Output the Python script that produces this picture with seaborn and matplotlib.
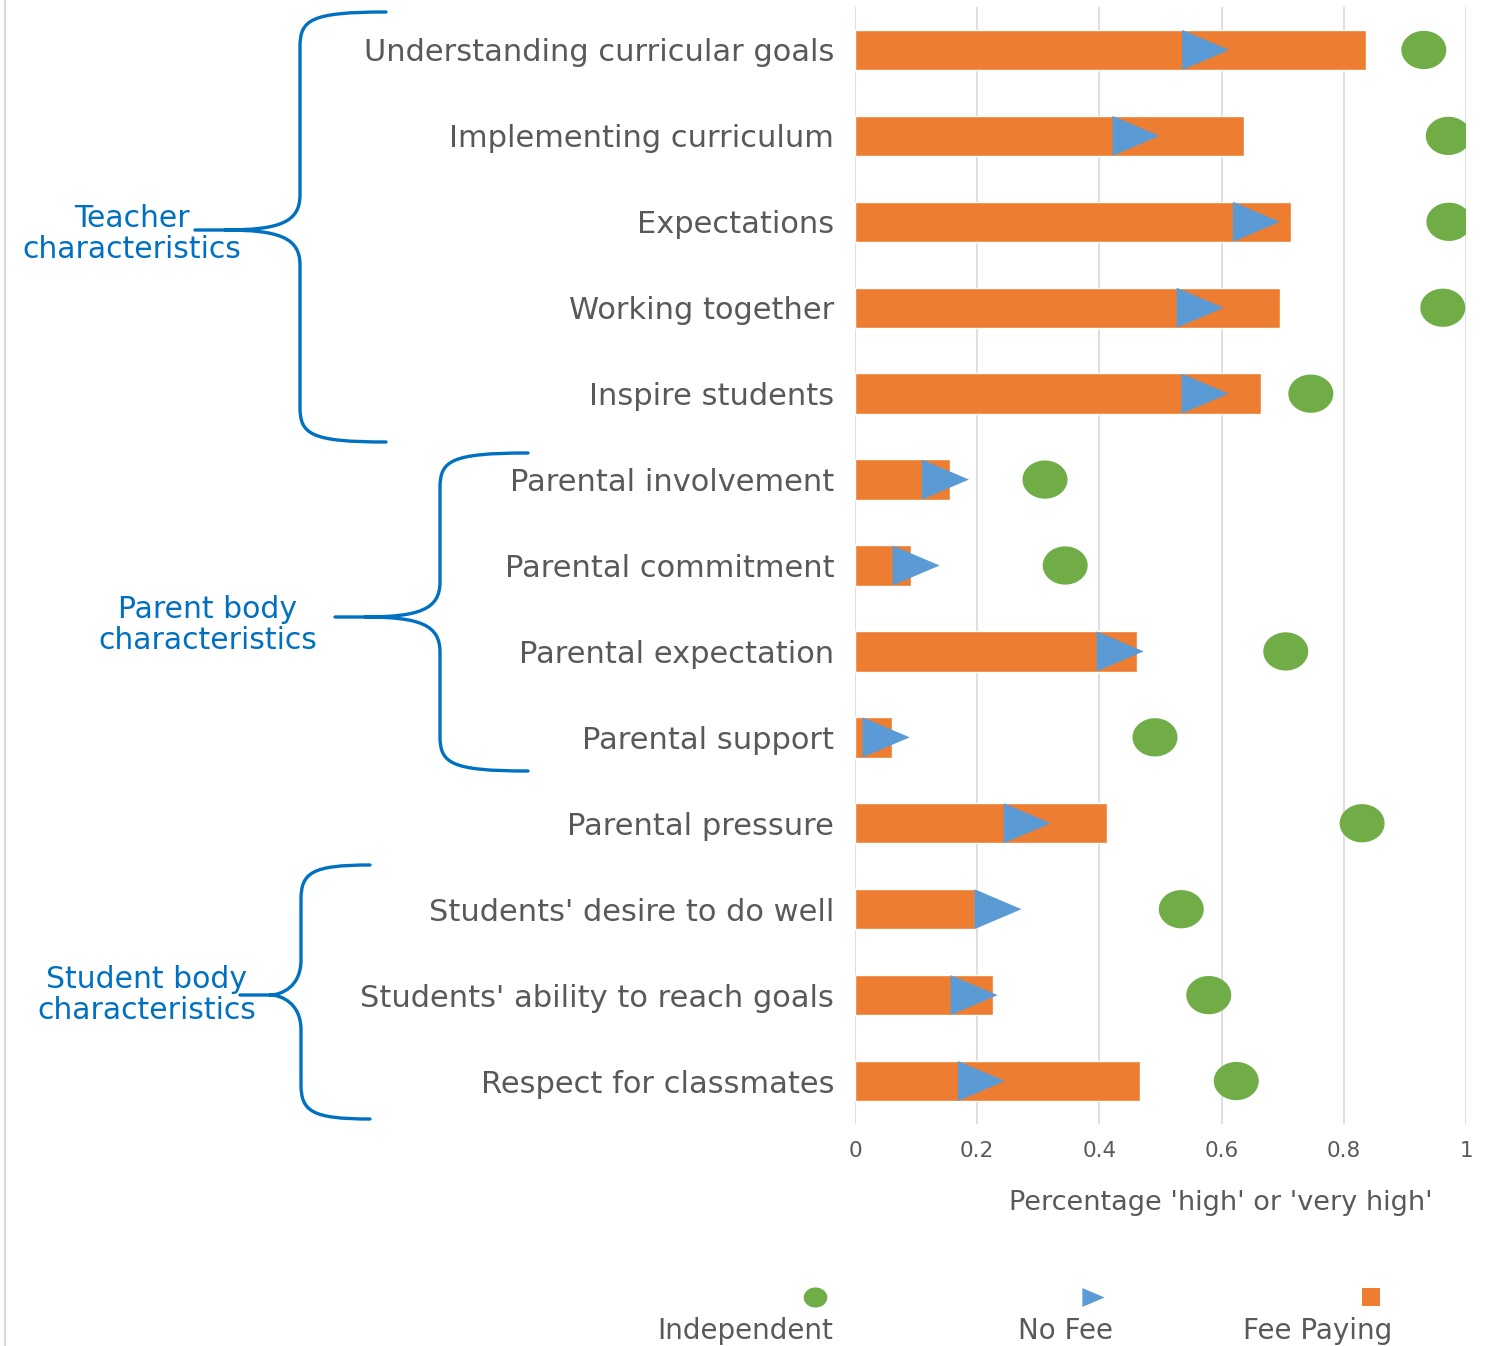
import numpy as np
import pandas as pd
import matplotlib
matplotlib.use("Agg")
import matplotlib.pyplot as plt
import seaborn as sns
from matplotlib.path import Path
from matplotlib.patches import PathPatch
from matplotlib.lines import Line2D

categories = [
    "Understanding curricular goals",
    "Implementing curriculum",
    "Expectations",
    "Working together",
    "Inspire students",
    "Parental involvement",
    "Parental commitment",
    "Parental expectation",
    "Parental support",
    "Parental pressure",
    "Students' desire to do well",
    "Students' ability to reach goals",
    "Respect for classmates",
]
fee_paying = [0.836, 0.637, 0.714, 0.696, 0.664, 0.155, 0.092, 0.462, 0.061, 0.412, 0.196, 0.226, 0.466]
no_fee = [0.574, 0.460, 0.657, 0.565, 0.573, 0.148, 0.100, 0.434, 0.051, 0.282, 0.234, 0.195, 0.207]
independent = [0.931, 0.971, 0.972, 0.962, 0.746, 0.311, 0.344, 0.705, 0.491, 0.830, 0.534, 0.579, 0.624]
x_ticks = [0, 0.2, 0.4, 0.6, 0.8, 1]
x_tick_labels = ["0", "0.2", "0.4", "0.6", "0.8", "1"]
legend_labels = ["Independent", "No Fee", "Fee Paying"]
groups = ["Teacher\ncharacteristics", "Parent body\ncharacteristics", "Student body\ncharacteristics"]

ORANGE = "#ED7D31"
BLUE = "#5B9BD5"
GREEN = "#70AD47"
TXT = "#595959"
BRACE = "#0070C0"

sns.set_theme(style="white")
plt.rcParams['font.family'] = ['DejaVu Sans']

# slightly wide (stretched) marker shapes
t = np.linspace(0, 2 * np.pi, 60)
ELLIPSE = Path(np.column_stack([np.cos(t), 0.85 * np.sin(t)]), closed=True)
TRI = Path([(-1, -0.85), (1, 0), (-1, 0.85), (-1, -0.85)], closed=True)

W, H = 1503, 1346
fig = plt.figure(figsize=(W / 100, H / 100), dpi=100)
ax = fig.add_axes([855 / W, 1 - 1124 / H, (1466 - 855) / W, (1124 - 7) / H])

df = pd.DataFrame({
    "category": categories,
    "pos": np.arange(len(categories)),
    "fee": fee_paying,
    "nofee": no_fee,
    "indep": independent,
})

sns.barplot(data=df, x="fee", y="category", order=categories, orient="h",
            color=ORANGE, saturation=1, width=0.47, ax=ax, zorder=2)
sns.scatterplot(data=df, x="nofee", y="pos", marker=TRI, s=1150, color=BLUE,
                edgecolor="none", linewidth=0, ax=ax, zorder=3)
sns.scatterplot(data=df, x="indep", y="pos", marker=ELLIPSE, s=1050, color=GREEN,
                edgecolor="none", linewidth=0, ax=ax, zorder=3)

ax.set_xlim(0, 1)
ax.set_ylim(len(categories) - 0.5, -0.5)
ax.set_xticks(x_ticks)
ax.set_xticklabels(x_tick_labels)
ax.grid(axis="x", color="#d9d9d9", linewidth=1.2, zorder=0)
ax.grid(axis="y", visible=False)
ax.set_axisbelow(True)
for s in ax.spines.values():
    s.set_visible(False)
ax.tick_params(axis="x", length=0, pad=12, labelsize=15.5, labelcolor=TXT)
ax.tick_params(axis="y", length=0, pad=15, labelsize=22, labelcolor=TXT)
ax.set_yticks(np.arange(len(categories)))
ax.set_yticklabels(categories)
ax.set_ylabel("")
ax.set_xlabel("Percentage 'high' or 'very high'", fontsize=19.5, color=TXT)
ax.xaxis.set_label_coords((1221 - 855) / 611, (1124 - 1203) / 1117)
ax.xaxis.label.set_va("center")
ax.xaxis.label.set_ha("center")


def fx(x):
    return x / W


def fy(y):
    return 1 - y / H


def brace(x_spine, y_top, y_bot, y_mid, x_tip, x_point):
    r = 35
    verts = [
        (x_tip, y_top),
        (x_spine + 10, y_top), (x_spine, y_top + 8), (x_spine, y_top + r),
        (x_spine, y_mid - r),
        (x_spine, y_mid - 8), (x_spine - 20, y_mid), (x_point + 30, y_mid),
        (x_point, y_mid),
        (x_point + 30, y_mid),
        (x_spine - 20, y_mid), (x_spine, y_mid + 8), (x_spine, y_mid + r),
        (x_spine, y_bot - r),
        (x_spine, y_bot - 8), (x_spine + 10, y_bot), (x_tip, y_bot),
    ]
    codes = [Path.MOVETO,
             Path.CURVE4, Path.CURVE4, Path.CURVE4,
             Path.LINETO,
             Path.CURVE4, Path.CURVE4, Path.CURVE4,
             Path.LINETO,
             Path.MOVETO,
             Path.CURVE4, Path.CURVE4, Path.CURVE4,
             Path.LINETO,
             Path.CURVE4, Path.CURVE4, Path.CURVE4]
    verts = [(fx(a), fy(b)) for a, b in verts]
    p = PathPatch(Path(verts, codes), facecolor="none", edgecolor=BRACE,
                  linewidth=2.4, transform=fig.transFigure, capstyle="round")
    fig.add_artist(p)


brace(300, 12, 442, 230, 386, 195)
brace(440, 453, 771, 617, 528, 335)
brace(301, 865, 1119, 995, 370, 240)

fig.text(fx(132), fy(234), groups[0], ha="center", va="center", color=BRACE,
         fontsize=21.5, linespacing=1.12)
fig.text(fx(208), fy(625), groups[1], ha="center", va="center", color=BRACE,
         fontsize=21.5, linespacing=1.12)
fig.text(fx(147), fy(995), groups[2], ha="center", va="center", color=BRACE,
         fontsize=21.5, linespacing=1.12)

# chart border line on the left
fig.add_artist(Line2D([fx(5), fx(5)], [0, 1], color="#d9d9d9", linewidth=1.5,
                      transform=fig.transFigure))

# legend
leg_items = [(815, 745, ELLIPSE, GREEN, 17), (1093, 1066, TRI, BLUE, 16), (1371, 1318, "s", ORANGE, 13)]
for (mx, tx, mk, col, ms), lab in zip(leg_items, legend_labels):
    fig.add_artist(Line2D([fx(mx)], [fy(1297)], marker=mk, markersize=ms, color=col,
                          markeredgewidth=0, linestyle="none", transform=fig.transFigure))
    fig.text(fx(tx), fy(1331), lab, ha="center", va="center", fontsize=20, color=TXT)

fig.savefig("out.png", dpi=100)
